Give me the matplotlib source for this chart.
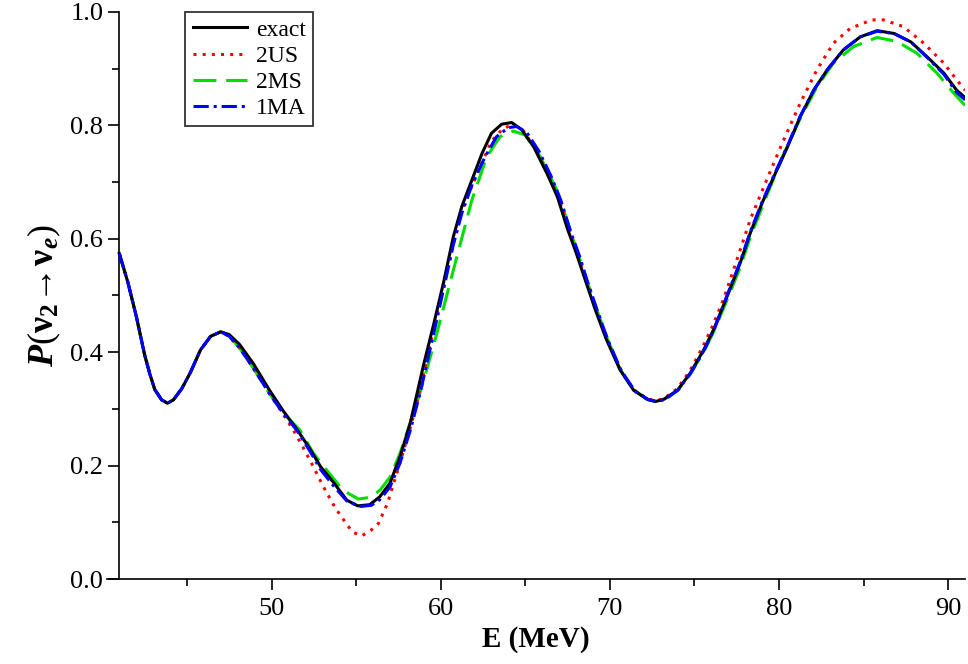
import numpy as np
import matplotlib
matplotlib.use("Agg")
import matplotlib.pyplot as plt
from matplotlib.ticker import MultipleLocator, FormatStrFormatter

plt.rcParams['font.family'] = ['Liberation Serif', 'DejaVu Serif']
plt.rcParams['mathtext.fontset'] = 'custom'
plt.rcParams['mathtext.rm'] = 'Liberation Serif'
plt.rcParams['mathtext.it'] = 'Liberation Serif:italic'
plt.rcParams['mathtext.bf'] = 'Liberation Serif:bold'
plt.rcParams['mathtext.bfit'] = 'Liberation Serif:bold:italic'

# common left part (all curves nearly coincide here)
E_left = [41.0, 41.5, 42.0, 42.5, 42.8, 43.1, 43.5, 43.85, 44.2, 44.7, 45.2, 45.8, 46.4, 47.0]
P_left = [0.574, 0.524, 0.464, 0.395, 0.362, 0.334, 0.316, 0.310, 0.316, 0.336, 0.364, 0.404, 0.428, 0.436]

# exact
E_exact = E_left + [47.5, 48.1, 48.9, 49.9, 50.7, 51.5, 52.3, 52.9, 53.7, 54.45, 55.1, 55.8,
                    56.4, 57.0, 57.6, 58.2, 58.5, 58.8, 59.0, 59.6, 60.2, 60.75, 61.25, 61.85,
                    62.45, 63.0, 63.6, 64.2, 64.8, 65.5, 66.3, 66.9, 67.5, 68.0, 68.55, 69.15,
                    69.8, 70.6, 71.4, 72.2, 72.7, 73.2, 74.0, 74.75, 75.55, 76.15, 76.9, 77.7,
                    78.3, 79.0, 79.7, 80.5, 81.25, 82.05, 82.85, 83.8, 84.8, 85.8, 86.8, 87.8,
                    88.75, 89.75, 90.5, 91.0]
P_exact = P_left + [0.431, 0.414, 0.381, 0.332, 0.296, 0.264, 0.228, 0.198, 0.169, 0.139, 0.129, 0.131,
                    0.145, 0.169, 0.216, 0.275, 0.314, 0.353, 0.379, 0.451, 0.527, 0.604, 0.657, 0.704,
                    0.751, 0.786, 0.802, 0.805, 0.792, 0.762, 0.714, 0.674, 0.617, 0.576, 0.527, 0.474,
                    0.422, 0.369, 0.333, 0.317, 0.313, 0.317, 0.333, 0.363, 0.404, 0.441, 0.496, 0.557,
                    0.610, 0.663, 0.710, 0.762, 0.815, 0.862, 0.898, 0.933, 0.956, 0.967, 0.962, 0.947,
                    0.921, 0.892, 0.862, 0.849]

# 2US
E_2us = E_left + [47.5, 48.1, 48.9, 49.9, 50.7, 51.3, 51.85, 52.47, 53.06, 53.66, 54.05, 54.78,
                  55.33, 55.88, 56.32, 56.85, 57.4, 57.99, 58.49, 58.9, 59.5, 60.36, 61.3, 62.33,
                  63.0, 63.7, 64.3, 64.9, 65.6, 66.4, 67.0, 67.6, 68.1, 68.6, 69.2, 69.85,
                  70.6, 71.4, 72.2, 72.7, 73.2, 74.0, 74.75, 75.5, 76.1, 76.7, 77.31, 78.3,
                  79.3, 80.27, 81.25, 82.24, 83.22, 84.21, 85.49, 86.18, 87.36, 88.55, 89.73, 90.91, 91.0]
P_2us = P_left + [0.428, 0.408, 0.373, 0.326, 0.290, 0.262, 0.233, 0.198, 0.163, 0.131, 0.113, 0.083,
                  0.076, 0.086, 0.098, 0.133, 0.186, 0.245, 0.298, 0.350, 0.430, 0.545, 0.655, 0.727,
                  0.772, 0.795, 0.801, 0.790, 0.758, 0.711, 0.670, 0.615, 0.574, 0.527, 0.474,
                  0.422, 0.370, 0.334, 0.318, 0.314, 0.318, 0.336, 0.368, 0.410, 0.448, 0.492, 0.545, 0.634,
                  0.706, 0.774, 0.839, 0.898, 0.945, 0.971, 0.986, 0.986, 0.974, 0.945, 0.910, 0.865, 0.862]

# 2MS
E_2ms = E_left + [47.5, 48.1, 48.9, 49.9, 50.7, 51.67, 52.47, 53.26, 54.05, 54.54, 55.13, 55.83,
                  56.42, 57.01, 57.6, 58.19, 58.68, 59.2, 59.77, 60.75, 61.84, 62.73, 63.51, 64.3,
                  64.99, 65.88, 66.87, 67.65, 68.6, 69.2, 69.85, 70.6, 71.4, 72.2, 72.7, 73.2,
                  74.0, 74.75, 75.55, 76.15, 76.9, 77.7, 78.3, 79.3, 80.27, 81.25, 82.24, 83.22,
                  84.41, 85.79, 86.97, 88.16, 89.34, 90.32, 91.0]
P_2ms = P_left + [0.428, 0.408, 0.373, 0.326, 0.292, 0.263, 0.222, 0.192, 0.163, 0.151, 0.141, 0.144,
                  0.157, 0.180, 0.222, 0.275, 0.319, 0.372, 0.433, 0.545, 0.668, 0.745, 0.780, 0.790,
                  0.783, 0.745, 0.686, 0.616, 0.530, 0.477, 0.424, 0.370, 0.334, 0.317, 0.313, 0.317,
                  0.332, 0.361, 0.401, 0.437, 0.490, 0.549, 0.603, 0.678, 0.749, 0.812, 0.868, 0.910,
                  0.939, 0.955, 0.948, 0.927, 0.892, 0.857, 0.835]

# 1MA
E_1ma = E_left + [47.5, 48.1, 48.9, 49.9, 50.7, 51.5, 52.3, 52.9, 53.7, 54.5, 55.3, 55.9,
                  56.4, 57.0, 57.6, 58.2, 58.8, 59.6, 60.2, 60.75, 61.25, 61.85, 62.63, 63.3,
                  64.0, 64.5, 65.1, 65.8, 66.5, 67.1, 67.7, 68.2, 68.65, 69.25, 69.9, 70.7,
                  71.5, 72.3, 72.8, 73.3, 74.05, 74.8, 75.6, 76.2, 76.9, 77.7, 78.3, 79.0,
                  79.7, 80.5, 81.25, 82.05, 82.85, 83.8, 84.8, 85.8, 86.8, 87.8, 88.75, 89.75,
                  90.5, 91.0]
P_1ma = P_left + [0.428, 0.408, 0.373, 0.326, 0.292, 0.262, 0.224, 0.193, 0.163, 0.136, 0.128, 0.130,
                  0.140, 0.162, 0.205, 0.262, 0.330, 0.435, 0.515, 0.590, 0.645, 0.695, 0.745, 0.780,
                  0.796, 0.798, 0.787, 0.755, 0.712, 0.668, 0.611, 0.570, 0.527, 0.474, 0.420, 0.366,
                  0.331, 0.316, 0.313, 0.317, 0.334, 0.364, 0.405, 0.442, 0.498, 0.559, 0.612, 0.665,
                  0.712, 0.764, 0.816, 0.862, 0.898, 0.933, 0.956, 0.966, 0.962, 0.947, 0.920, 0.890,
                  0.858, 0.845]

fig = plt.figure(figsize=(9.68, 6.64), dpi=100)
ax = fig.add_axes([0.111, 0.128, 0.886, 0.854])

lw = 2.2
ax.plot(E_exact, P_exact, color='black', lw=lw, label='exact', zorder=4)
ax.plot(E_2us, P_2us, color='#ff0000', lw=lw, linestyle=(0, (1, 2)), label='2US', zorder=3)
ax.plot(E_2ms, P_2ms, color='#00e000', lw=lw, linestyle=(0, (7.5, 3.2)), label='2MS', zorder=2)
ax.plot(E_1ma, P_1ma, color='#0000ff', lw=lw, linestyle=(0, (5, 1.6, 1, 1.6)), label='1MA', zorder=5)

ax.set_xlim(40.3, 91)
ax.set_ylim(0, 1.0)
ax.spines['left'].set_position(('data', 41))
ax.spines['top'].set_visible(False)
ax.spines['right'].set_visible(False)
for s in ['left', 'bottom']:
    ax.spines[s].set_linewidth(1.2)

ax.xaxis.set_major_locator(MultipleLocator(10))
ax.xaxis.set_minor_locator(MultipleLocator(5))
ax.yaxis.set_major_locator(MultipleLocator(0.2))
ax.yaxis.set_minor_locator(MultipleLocator(0.1))
ax.yaxis.set_major_formatter(FormatStrFormatter('%.1f'))
ax.tick_params(which='major', direction='out', length=8, width=1.2, labelsize=19)
ax.tick_params(which='minor', direction='out', length=5, width=1.2)
ax.tick_params(axis='x', which='major', pad=6)

ax.set_xlabel('E (MeV)', fontsize=21, fontweight='bold', labelpad=4)
ax.set_ylabel(r'$\mathbfit{P}(\mathbf{\nu}_{\mathbf{2}}\!\rightarrow\!\mathbf{\nu}_{\mathbfit{e}})$',
              fontsize=26, labelpad=5)

leg = ax.legend(loc='upper left', bbox_to_anchor=(0.091, 1.0), borderaxespad=0, fontsize=17,
                frameon=True, fancybox=False, edgecolor='black', handlelength=2.3,
                handletextpad=0.4, labelspacing=0.2, borderpad=0.3)
leg.get_frame().set_linewidth(1.3)

fig.savefig('out.png', dpi=100)
